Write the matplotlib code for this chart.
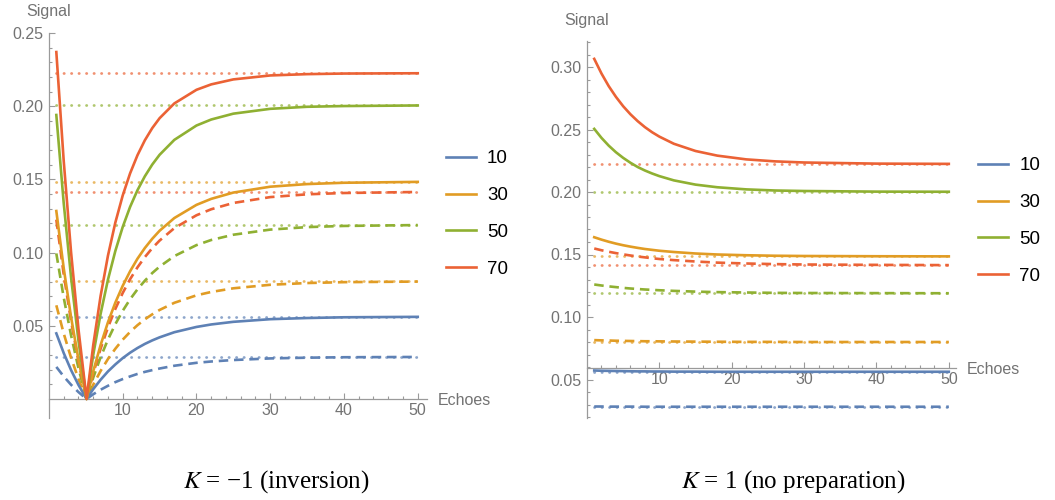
# -*- coding: utf-8 -*-
# signal vs echoes, two preparations (inversion / none)

import matplotlib
matplotlib.use('Agg')
from matplotlib import pyplot as plt
from matplotlib.ticker import FixedLocator

plt.rcParams['font.family'] = ['Liberation Sans', 'DejaVu Sans']
plt.rcParams['mathtext.fontset'] = 'stix'

# ---------------- data ----------------
flip_angles = ['10', '30', '50', '70']
colors = ['#5E81B5', '#E19C24', '#8FB032', '#EB6235']

# K = -1 (inversion)
echoes_l = [1, 2, 3, 4, 5.1, 6, 7, 8, 9, 10, 11, 12, 13, 14, 15, 17, 20, 22, 25, 30, 35, 40, 50]
solid_l = [
    [0.0448, 0.0314, 0.0197, 0.0096, 0.0, 0.0067, 0.0131, 0.0188, 0.0236, 0.0279, 0.0316, 0.0348, 0.0376, 0.0400, 0.0421, 0.0456, 0.0492, 0.0509, 0.0527, 0.0545, 0.0553, 0.0558, 0.0561],
    [0.1284, 0.0894, 0.0558, 0.0270, 0.0, 0.0188, 0.0368, 0.0524, 0.0658, 0.0773, 0.0872, 0.0958, 0.1031, 0.1094, 0.1149, 0.1236, 0.1326, 0.1367, 0.1410, 0.1450, 0.1468, 0.1477, 0.1483],
    [0.194, 0.1339, 0.0830, 0.0399, 0.0, 0.0300, 0.0581, 0.0815, 0.1011, 0.1175, 0.1312, 0.1426, 0.1521, 0.1601, 0.1668, 0.1770, 0.1868, 0.1909, 0.1949, 0.1982, 0.1996, 0.2001, 0.2005],
    [0.237, 0.1627, 0.1001, 0.0478, 0.0, 0.0366, 0.0703, 0.0979, 0.1205, 0.1390, 0.1541, 0.1665, 0.1767, 0.1850, 0.1918, 0.2019, 0.2112, 0.2149, 0.2183, 0.2210, 0.2219, 0.2223, 0.2225],
]
dashed_l = [
    [0.0219, 0.0154, 0.0097, 0.0047, 0.0, 0.0032, 0.0063, 0.0090, 0.0115, 0.0136, 0.0154, 0.0171, 0.0185, 0.0197, 0.0208, 0.0227, 0.0247, 0.0256, 0.0266, 0.0277, 0.0282, 0.0285, 0.0287],
    [0.0640, 0.0448, 0.0281, 0.0137, 0.0, 0.0097, 0.0191, 0.0273, 0.0343, 0.0405, 0.0458, 0.0504, 0.0544, 0.0578, 0.0608, 0.0657, 0.0708, 0.0731, 0.0756, 0.0780, 0.0792, 0.0798, 0.0802],
    [0.0994, 0.0693, 0.0434, 0.0211, 0.0, 0.0145, 0.0285, 0.0406, 0.0511, 0.0602, 0.0681, 0.0749, 0.0808, 0.0860, 0.0904, 0.0976, 0.1051, 0.1086, 0.1122, 0.1157, 0.1174, 0.1182, 0.1188],
    [0.1225, 0.0852, 0.0532, 0.0258, 0.0, 0.0174, 0.0343, 0.0489, 0.0615, 0.0724, 0.0818, 0.0899, 0.0969, 0.1030, 0.1082, 0.1167, 0.1255, 0.1296, 0.1339, 0.1379, 0.1398, 0.1407, 0.1414],
]
steady_solid_l = [0.0562, 0.1485, 0.2005, 0.2225]
steady_dashed_l = [0.0288, 0.0803, 0.119, 0.1416]

# K = 1 (no preparation)
echoes_r = [1, 2, 3, 4, 5, 6, 7, 8, 9, 10, 12, 15, 18, 22, 26, 30, 40, 50]
solid_r = [
    [0.0572, 0.0570, 0.0569, 0.0568, 0.0567, 0.0566, 0.0565, 0.0565, 0.0564, 0.0564, 0.0563, 0.0563, 0.0562, 0.0562, 0.0562, 0.0562, 0.0562, 0.0562],
    [0.1638, 0.1619, 0.1602, 0.1587, 0.1574, 0.1563, 0.1553, 0.1544, 0.1537, 0.1530, 0.1520, 0.1508, 0.1500, 0.1494, 0.1490, 0.1488, 0.1486, 0.1485],
    [0.2505, 0.2433, 0.2371, 0.2318, 0.2273, 0.2234, 0.2200, 0.2172, 0.2148, 0.2127, 0.2093, 0.2059, 0.2038, 0.2021, 0.2012, 0.2008, 0.2003, 0.2002],
    [0.3065, 0.2948, 0.2847, 0.2761, 0.2686, 0.2622, 0.2567, 0.2519, 0.2478, 0.2443, 0.2386, 0.2328, 0.2291, 0.2261, 0.2245, 0.2236, 0.2227, 0.2225],
]
dashed_r = [
    [0.0284, 0.0284, 0.0283, 0.0283, 0.0283, 0.0283, 0.0283, 0.0282, 0.0282, 0.0282, 0.0282, 0.0282, 0.0282, 0.0282, 0.0282, 0.0282, 0.0282, 0.0282],
    [0.0815, 0.0813, 0.0812, 0.0810, 0.0809, 0.0808, 0.0807, 0.0806, 0.0806, 0.0805, 0.0804, 0.0803, 0.0802, 0.0801, 0.0801, 0.0800, 0.0800, 0.0800],
    [0.1260, 0.1252, 0.1245, 0.1239, 0.1233, 0.1228, 0.1224, 0.1220, 0.1217, 0.1214, 0.1209, 0.1203, 0.1199, 0.1196, 0.1193, 0.1192, 0.1191, 0.1190],
    [0.1548, 0.1534, 0.1522, 0.1511, 0.1501, 0.1492, 0.1484, 0.1477, 0.1470, 0.1464, 0.1455, 0.1444, 0.1435, 0.1428, 0.1423, 0.1420, 0.1417, 0.1415],
]
steady_solid_r = [0.0562, 0.1485, 0.2002, 0.2225]
steady_dashed_r = [0.0282, 0.0800, 0.119, 0.1415]

x_major = [10, 20, 30, 40, 50]
x_minor = [2, 4, 6, 8, 12, 14, 16, 18, 22, 24, 26, 28, 32, 34, 36, 38, 42, 44, 46, 48]
y_major_l = [0.05, 0.10, 0.15, 0.20, 0.25]
y_major_r = [0.05, 0.10, 0.15, 0.20, 0.25, 0.30]

axis_gray = '#9a9a9a'
label_gray = '#737373'

fig = plt.figure(figsize=(10.55, 5), dpi=100)
ax1 = fig.add_axes([0.0464, 0.164, 0.3583, 0.77])
ax2 = fig.add_axes([0.5564, 0.164, 0.3498, 0.754])


def draw_panel(ax, echoes, solid, dashed, st_solid, st_dashed):
    # dotted steady state lines first
    for c, s, d in zip(colors, st_solid, st_dashed):
        for v in (s, d):
            ax.plot([echoes[0], echoes[-1]], [v, v], color=c, lw=2.0,
                    ls=(0, (0.1, 2.6)), dash_capstyle='round', alpha=0.7, zorder=1)
    for c, ys in zip(colors, dashed):
        ax.plot(echoes, ys, color=c, lw=1.9, ls=(0, (3.6, 2.2)), zorder=2)
    lines = []
    for c, ys, lab in zip(colors, solid, flip_angles):
        ln, = ax.plot(echoes, ys, color=c, lw=1.9, zorder=3, label=lab)
        lines.append(ln)
    return lines


def style_axes(ax, xlim, ylim, xcross, y_major, y_minor):
    ax.set_xlim(*xlim)
    ax.set_ylim(*ylim)
    ax.spines['top'].set_visible(False)
    ax.spines['right'].set_visible(False)
    ax.spines['left'].set_position(('data', 0))
    ax.spines['bottom'].set_position(('data', xcross))
    for sp in ('left', 'bottom'):
        ax.spines[sp].set_color(axis_gray)
        ax.spines[sp].set_linewidth(0.9)
    ax.xaxis.set_major_locator(FixedLocator(x_major))
    ax.xaxis.set_minor_locator(FixedLocator(x_minor))
    ax.yaxis.set_major_locator(FixedLocator(y_major))
    ax.yaxis.set_minor_locator(FixedLocator(y_minor))
    ax.set_yticklabels(['%.2f' % v for v in y_major])
    ax.tick_params(which='both', direction='in', color=axis_gray, width=0.8,
                   labelcolor=label_gray, labelsize=11.5)
    ax.tick_params(which='major', length=4)
    ax.tick_params(which='minor', length=2.3)
    ax.tick_params(axis='x', pad=3)
    ax.tick_params(axis='y', pad=4)
    ax.text(0, ylim[1] + (ylim[1] - ylim[0]) * 0.055, 'Signal', ha='center', va='center',
            color=label_gray, fontsize=11.5, clip_on=False)
    ax.annotate('Echoes', xy=(1, xcross), xycoords=('axes fraction', 'data'),
                xytext=(8, -1), textcoords='offset points', ha='left', va='center',
                color=label_gray, fontsize=11.5)


lines1 = draw_panel(ax1, echoes_l, solid_l, dashed_l, steady_solid_l, steady_dashed_l)
lines2 = draw_panel(ax2, echoes_r, solid_r, dashed_r, steady_solid_r, steady_dashed_r)

y_minor_l = [i / 100 for i in range(1, 25) if i % 5 != 0]
y_minor_r = [i / 100 for i in range(2, 33) if i % 5 != 0]
style_axes(ax1, (0, 51.25), (-0.013, 0.25), 0, y_major_l, y_minor_l)
style_axes(ax2, (0, 51.0), (0.0192, 0.3208), 0.059, y_major_r, y_minor_r)

# legends
for ax, lines, anchor in ((ax1, lines1, (1.05, 0.53)), (ax2, lines2, (1.06, 0.5225))):
    ax.legend(handles=lines, loc='center left', bbox_to_anchor=anchor, frameon=False,
              fontsize=13.5, handlelength=1.6, handletextpad=0.6, labelspacing=1.05,
              borderpad=0, borderaxespad=0)

# captions
fig.text(0.262, 0.036, r'$K$ = −1 (inversion)', ha='center', va='center',
         family='Liberation Serif', fontsize=18)
fig.text(0.752, 0.036, r'$K$ = 1 (no preparation)', ha='center', va='center',
         family='Liberation Serif', fontsize=18)

plt.savefig('out.png', dpi=100)
